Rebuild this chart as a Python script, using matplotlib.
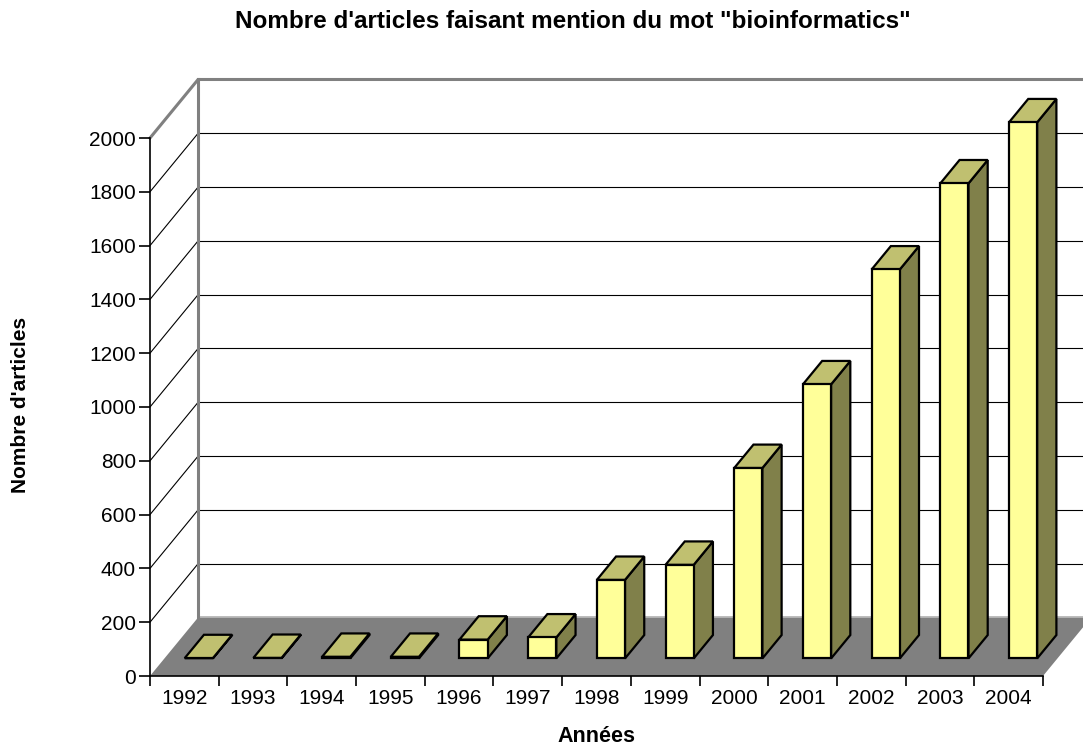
import numpy as np
import matplotlib
matplotlib.use("Agg")
import matplotlib.pyplot as plt
from matplotlib.patches import Polygon

rcParams = {'font.size': 15,
            'font.family': 'sans-serif',
            'font.sans-serif': ['Liberation Sans', 'DejaVu Sans'],
            'axes.unicode_minus': False,
            }

years = ["1992", "1993", "1994", "1995", "1996", "1997", "1998",
         "1999", "2000", "2001", "2002", "2003", "2004"]
articles = [1, 2, 6, 6, 70, 78, 292, 348, 708, 1019, 1446, 1766, 1993]
yticks = list(range(0, 2001, 200))

# Oblique depth of the box, in data units (categories, articles)
DX = 0.70
DY = 217.5
# Bars sit between 30% and 70% of the depth
D0, D1 = 0.3, 0.7
BAR_OFF, BAR_W = 0.295, 0.41

FRONT = '#FFFF99'
TOP = '#C0C070'
SIDE = '#80804A'
FLOOR = '#808080'
EDGE = '#808080'


def poly(ax, pts, fc, ec='black', lw=1.6, z=3):
    p = Polygon(pts, closed=True, facecolor=fc, edgecolor=ec, linewidth=lw,
                joinstyle='miter', zorder=z, clip_on=False)
    ax.add_patch(p)


def draw_box(ax, n):
    xr = n + 2.0
    # floor
    poly(ax, [(0, 0), (n, 0), (n + DX, DY), (DX, DY)], FLOOR, ec='none', z=1)
    ax.plot([DX, xr], [DY, DY], color='#B0B0B0', lw=1.2, zorder=1.1,
            clip_on=False)
    # back wall and left wall grid
    for v in yticks[1:-1]:
        ax.plot([DX, xr], [v + DY, v + DY], color='black', lw=0.8,
                zorder=1, clip_on=False)
        ax.plot([0, DX], [v, v + DY], color='black', lw=0.8, zorder=1,
                clip_on=False)
    top = yticks[-1]
    ax.plot([0, DX, xr], [top, top + DY, top + DY], color=EDGE, lw=2.2,
            zorder=1.2, clip_on=False, solid_joinstyle='miter')
    ax.plot([DX, DX], [DY, top + DY], color=EDGE, lw=2.2, zorder=1.2,
            clip_on=False)


def draw_bar(ax, i, v):
    x0 = i + BAR_OFF + D0 * DX
    y0 = D0 * DY
    x1 = x0 + BAR_W
    dx = (D1 - D0) * DX
    dy = (D1 - D0) * DY
    z = 3 + i * 0.01
    poly(ax, [(x1, y0), (x1 + dx, y0 + dy), (x1 + dx, y0 + dy + v),
              (x1, y0 + v)], SIDE, z=z)
    poly(ax, [(x0, y0 + v), (x1, y0 + v), (x1 + dx, y0 + v + dy),
              (x0 + dx, y0 + v + dy)], TOP, z=z)
    poly(ax, [(x0, y0), (x1, y0), (x1, y0 + v), (x0, y0 + v)], FRONT, z=z)


def bar_plot():
    plt.rcParams.update(rcParams)
    fig = plt.figure(figsize=(10.83, 7.51), dpi=100)
    ax = fig.add_axes([150 / 1083, 75 / 751, 893 / 1083, 538 / 751])
    n = len(years)
    ax.set_xlim(0, n)
    ax.set_ylim(0, yticks[-1])

    draw_box(ax, n)
    for i, v in enumerate(articles):
        draw_bar(ax, i, v)

    for s in ['top', 'right']:
        ax.spines[s].set_visible(False)
    for s in ['left', 'bottom']:
        ax.spines[s].set_linewidth(1.2)
        ax.spines[s].set_zorder(2)
    ax.patch.set_visible(False)

    ax.set_yticks(yticks)
    ax.tick_params(axis='y', length=8, width=1.2, direction='out', pad=2)
    ax.set_xticks(np.arange(0, n + 1))
    ax.set_xticklabels([])
    ax.set_xticks(np.arange(n) + 0.5, minor=True)
    ax.set_xticklabels(years, minor=True)
    ax.tick_params(axis='x', which='major', length=7, width=1.2,
                   direction='out')
    ax.tick_params(axis='x', which='minor', length=0, pad=9)

    fig.text(573 / 1083, 1 - 21 / 751,
             "Nombre d'articles faisant mention du mot \"bioinformatics\"",
             ha='center', va='center', fontweight='bold', fontsize=17.5)
    fig.text(596 / 1083, 1 - 737 / 751, "Années", ha='center',
             va='center', fontweight='bold', fontsize=15.5)
    fig.text(21 / 1083, 1 - 405 / 751, "Nombre d'articles", ha='center',
             va='center', rotation=90, fontweight='bold', fontsize=15)

    fig.savefig("out.png", dpi=100)


if __name__ == '__main__':
    bar_plot()
